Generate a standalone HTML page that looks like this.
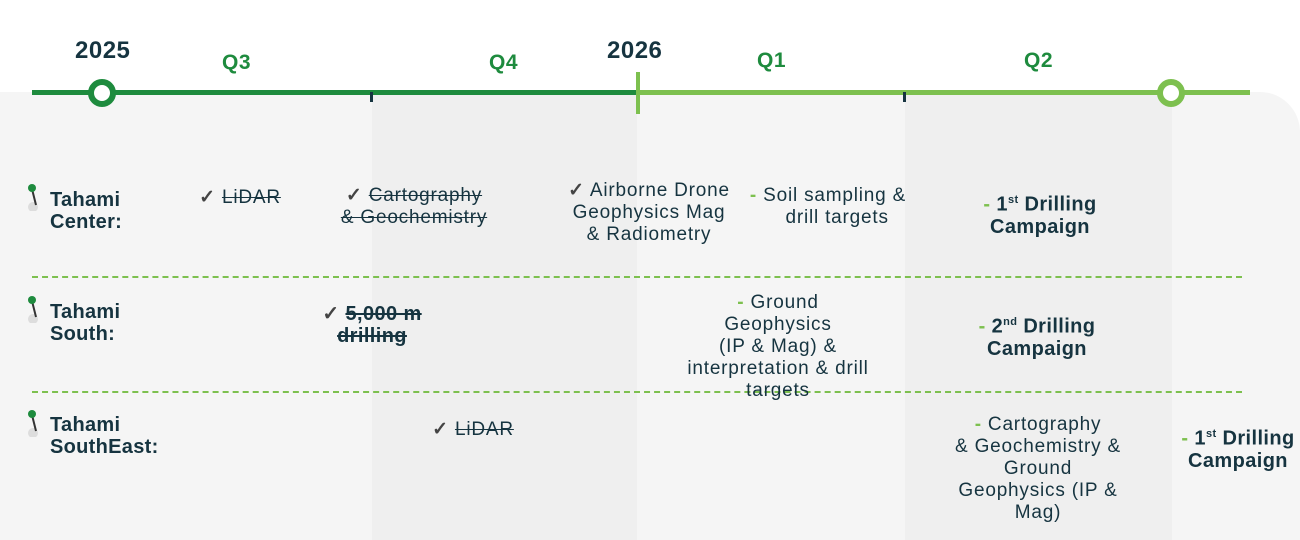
<!DOCTYPE html>
<html><head><style>
body{margin:0;width:1300px;height:540px;overflow:hidden;background:#fff;font-family:"Liberation Sans",sans-serif;color:#163440;position:relative}
.a{position:absolute}
.t{position:absolute;font-size:19px;letter-spacing:0.8px;line-height:22px;text-align:center;white-space:nowrap;transform:translateX(-50%)}
.b{font-weight:bold;font-size:20px;letter-spacing:0.4px}
s{text-decoration:line-through}
.ck{color:#444;font-weight:bold}
.g{color:#7dc04f;font-weight:bold}
.yr{font-size:24px;font-weight:bold;color:#163440;letter-spacing:0.5px}
.q{font-size:21px;font-weight:bold;color:#1e8b3e;letter-spacing:0.5px}
.lab{position:absolute;font-size:20px;font-weight:bold;line-height:22px;letter-spacing:0.3px}
.dash{position:absolute;left:32px;width:1210px;border-top:2px dashed #7dc04f}
</style></head><body>
<div class="a" style="left:0;top:92px;width:1300px;height:448px;background:#f5f5f5;border-top-right-radius:40px"></div>
<div class="a" style="left:372px;top:92px;width:265px;height:448px;background:#efefef"></div>
<div class="a" style="left:905px;top:92px;width:267px;height:448px;background:#efefef"></div>
<div class="a" style="left:32px;top:90px;width:606px;height:5px;background:#1e8b3e"></div>
<div class="a" style="left:638px;top:90px;width:612px;height:5px;background:#7dc04f"></div>
<div class="a" style="left:636px;top:72px;width:4px;height:42px;background:#7dc04f"></div>
<div class="a" style="left:370px;top:92px;width:3px;height:10px;background:#163440"></div>
<div class="a" style="left:903px;top:92px;width:3px;height:10px;background:#163440"></div>
<div class="a" style="left:88px;top:79px;width:16px;height:16px;border:6px solid #1e8b3e;border-radius:50%;background:#fff"></div>
<div class="a" style="left:1157px;top:79px;width:16px;height:16px;border:6px solid #7dc04f;border-radius:50%;background:#fff"></div>
<div class="a yr" style="left:75px;top:37px">2025</div>
<div class="a yr" style="left:607px;top:37px">2026</div>
<div class="a q" style="left:222px;top:51px">Q3</div>
<div class="a q" style="left:489px;top:51px">Q4</div>
<div class="a q" style="left:757px;top:49px">Q1</div>
<div class="a q" style="left:1024px;top:49px">Q2</div>

<div class="dash" style="top:276px"></div>
<div class="dash" style="top:391px"></div>

<svg class="a" style="left:26px;top:183px" width="14" height="28"><circle cx="7" cy="24" r="5" fill="#ddd"/><line x1="6" y1="6" x2="10" y2="22" stroke="#333" stroke-width="2"/><circle cx="6" cy="5" r="4" fill="#1e8b3e"/></svg>
<svg class="a" style="left:26px;top:295px" width="14" height="28"><circle cx="7" cy="24" r="5" fill="#ddd"/><line x1="6" y1="6" x2="10" y2="22" stroke="#333" stroke-width="2"/><circle cx="6" cy="5" r="4" fill="#1e8b3e"/></svg>
<svg class="a" style="left:26px;top:409px" width="14" height="28"><circle cx="7" cy="24" r="5" fill="#ddd"/><line x1="6" y1="6" x2="10" y2="22" stroke="#333" stroke-width="2"/><circle cx="6" cy="5" r="4" fill="#1e8b3e"/></svg>
<div class="lab" style="left:50px;top:189px">Tahami<br>Center:</div>
<div class="lab" style="left:50px;top:301px">Tahami<br>South:</div>
<div class="lab" style="left:50px;top:414px">Tahami<br>SouthEast:</div>

<div class="t" style="left:240px;top:187px"><span class="ck">✓</span> <s>LiDAR</s></div>
<div class="t" style="left:414px;top:185px"><span class="ck">✓</span> <s>Cartography</s><br><s>&amp; Geochemistry</s></div>
<div class="t" style="left:649px;top:180px"><span class="ck">✓</span> Airborne Drone<br>Geophysics Mag<br>&amp; Radiometry</div>
<div class="t" style="left:828px;top:185px"><span class="g">-</span> Soil sampling &amp;<br>&nbsp;&nbsp;&nbsp;drill targets</div>
<div class="t b" style="left:1040px;top:189px"><span class="g">-</span> 1<sup style="font-size:11px">st</sup> Drilling<br>Campaign</div>

<div class="t b" style="left:372px;top:303px"><span class="ck">✓</span> <s>5,000 m</s><br><s>drilling</s></div>
<div class="t" style="left:778px;top:292px"><span class="g">-</span> Ground<br>Geophysics<br>(IP &amp; Mag) &amp;<br>interpretation &amp; drill<br>targets</div>
<div class="t b" style="left:1037px;top:311px"><span class="g">-</span> 2<sup style="font-size:11px">nd</sup> Drilling<br>Campaign</div>

<div class="t" style="left:473px;top:419px"><span class="ck">✓</span> <s>LiDAR</s></div>
<div class="t" style="left:1038px;top:414px"><span class="g">-</span> Cartography<br>&amp; Geochemistry &amp;<br>Ground<br>Geophysics (IP &amp;<br>Mag)</div>
<div class="t b" style="left:1238px;top:423px"><span class="g">-</span> 1<sup style="font-size:11px">st</sup> Drilling<br>Campaign</div>
</body></html>
